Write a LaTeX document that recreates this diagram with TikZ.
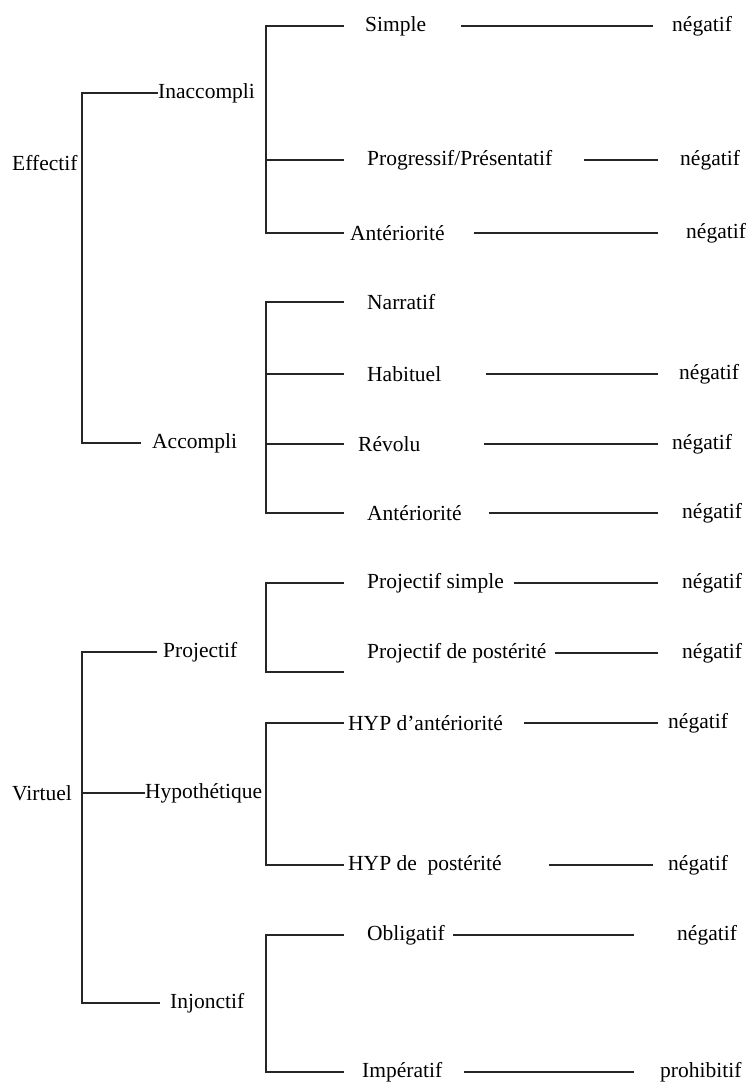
\documentclass[tikz,border=0pt]{standalone}
\usepackage{fontspec}
\setmainfont{Liberation Serif}
\tikzset{mot/.style={anchor=west,inner sep=0pt,font=\fontsize{21.5}{26}\selectfont},
  trait/.style={line width=1.3pt,black!85}}

\begin{document}
\begin{tikzpicture}[x=1pt,y=-1pt]
\useasboundingbox (0,0) rectangle (750,1083);
\coordinate (g) at (82,0);%barre de gauche
\coordinate (m) at (266,0);%barre du milieu
\coordinate (d) at (344,0);
\coordinate (pb) at (344,672);

%les racines
\node[mot] (eff) at (12,163) {Effectif};
\node[mot] (virt) at (12,793) {Virtuel};

%niveau 1
\node[mot] (inacc) at (158,93) {Inaccompli};
\node[mot] (acc) at (152,443) {Accompli};
\node[mot] (proj) at (163,652) {Projectif};
\node[mot] (hyp) at (145,793) {Hypoth\'etique};
\node[mot] (inj) at (170,1003) {Injonctif};

%niveau 2
\node[mot] (simple) at (365,26) {Simple};
\node[mot] (progr) at (367,160) {Progressif/Pr\'esentatif};
\node[mot] (ant1) at (350,233) {Ant\'eriorit\'e};
\node[mot] (narr) at (367,302) {Narratif};
\node[mot] (hab) at (367,374) {Habituel};
\node[mot] (rev) at (358,444) {R\'evolu};
\node[mot] (ant2) at (367,513) {Ant\'eriorit\'e};
\node[mot] (projs) at (367,583) {Projectif simple};
\node[mot] (projp) at (367,653) {Projectif de post\'erit\'e};
\node[mot] (hypa) at (348,723) {HYP d'ant\'eriorit\'e};
\node[mot] (hypp) at (348,865) {HYP de\ \ post\'erit\'e};
\node[mot] (oblig) at (367,935) {Obligatif};
\node[mot] (imper) at (362,1072) {Imp\'eratif};

%niveau 3
\node[mot] (n1) at (672,26) {n\'egatif};
\node[mot] (n2) at (680,160) {n\'egatif};
\node[mot] (n3) at (686,233) {n\'egatif};
\node[mot] (n4) at (679,374) {n\'egatif};
\node[mot] (n5) at (672,444) {n\'egatif};
\node[mot] (n6) at (682,513) {n\'egatif};
\node[mot] (n7) at (682,583) {n\'egatif};
\node[mot] (n8) at (682,653) {n\'egatif};
\node[mot] (n9) at (668,723) {n\'egatif};
\node[mot] (n10) at (668,865) {n\'egatif};
\node[mot] (n11) at (677,935) {n\'egatif};
\node[mot] (proh) at (660,1072) {prohibitif};

%les accolades
\draw[trait] (inacc.west) -- (g |- inacc.west) -- (g |- acc.west) -- ([xshift=-11pt]acc.west);
\draw[trait] ([xshift=-6pt]proj.west) -- (g |- proj.west) -- (g |- inj.west) -- ([xshift=-10pt]inj.west);
\draw[trait] (g |- hyp.west) -- (hyp.west);

\draw[trait] (d |- simple.west) -- (m |- simple.west) -- (m |- ant1.west) -- (d |- ant1.west);
\draw[trait] (m |- progr.west) -- (d |- progr.west);
\draw[trait] (d |- narr.west) -- (m |- narr.west) -- (m |- ant2.west) -- (d |- ant2.west);
\draw[trait] (m |- hab.west) -- (d |- hab.west);
\draw[trait] (m |- rev.west) -- (d |- rev.west);
\draw[trait] (d |- projs.west) -- (m |- projs.west) -- (m |- pb) -- (pb);
\draw[trait] (d |- hypa.west) -- (m |- hypa.west) -- (m |- hypp.west) -- (d |- hypp.west);
\draw[trait] (d |- oblig.west) -- (m |- oblig.west) -- (m |- imper.west) -- (d |- imper.west);

%les traits vers la negation
\draw[trait] ([xshift=35pt]simple.east) -- ([xshift=-19pt]n1.west);
\draw[trait] ([xshift=31pt]progr.east) -- ([xshift=-22pt]n2.west);
\draw[trait] ([xshift=29pt]ant1.east) -- ([xshift=-28pt]n3.west);
\draw[trait] ([xshift=45pt]hab.east) -- ([xshift=-21pt]n4.west);
\draw[trait] ([xshift=63pt]rev.east) -- ([xshift=-14pt]n5.west);
\draw[trait] ([xshift=27pt]ant2.east) -- ([xshift=-24pt]n6.west);
\draw[trait] ([xshift=10pt]projs.east) -- ([xshift=-24pt]n7.west);
\draw[trait] ([xshift=8pt]projp.east) -- ([xshift=-24pt]n8.west);
\draw[trait] ([xshift=21pt]hypa.east) -- ([xshift=-10pt]n9.west);
\draw[trait] ([xshift=47pt]hypp.east) -- ([xshift=-15pt]n10.west);
\draw[trait] ([xshift=8pt]oblig.east) -- ([xshift=-43pt]n11.west);
\draw[trait] ([xshift=22pt]imper.east) -- ([xshift=-26pt]proh.west);
\end{tikzpicture}
\end{document}
